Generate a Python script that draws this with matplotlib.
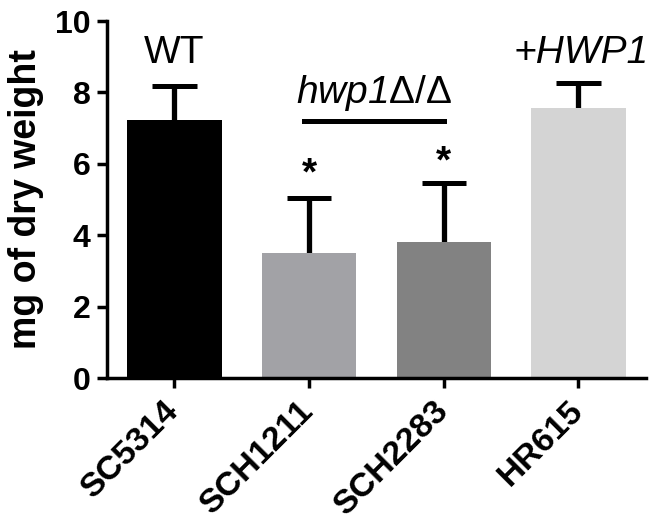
import numpy as np
import matplotlib.pyplot as plt

# dane
szczepy = ['SC5314', 'SCH1211', 'SCH2283', 'HR615']
srednie = [7.22, 3.5, 3.82, 7.55]
gorne = [8.19, 5.05, 5.45, 8.25]   # koniec wąsa błędu
kolory = ['#000000', '#a2a2a6', '#828282', '#d4d4d4']

plt.rcParams['font.family'] = ['Liberation Sans', 'DejaVu Sans']
plt.rcParams['mathtext.fontset'] = 'custom'
plt.rcParams['mathtext.rm'] = 'Liberation Sans'
plt.rcParams['mathtext.sf'] = 'Liberation Sans'
plt.rcParams['mathtext.it'] = 'Liberation Sans:italic'

fig = plt.figure(figsize=(6.53, 5.23), dpi=100)
ax = fig.add_axes([0.164, 0.2772, 0.825, 0.6826])

x = np.arange(len(szczepy))
ax.bar(x, srednie, width=0.70, color=kolory, zorder=2)
# tylko górne wąsy błędu
ax.vlines(x, srednie, gorne, color='black', lw=3.8, zorder=1)
ax.hlines(gorne, x - 0.165, x + 0.165, color='black', lw=3.6, zorder=1)

ax.set_xlim(-0.5, 3.5)
ax.set_ylim(0, 10)
ax.set_yticks([0, 2, 4, 6, 8, 10])
ax.set_xticks(x)
ax.set_xticklabels(szczepy, rotation=45, ha='right', va='center', rotation_mode='anchor',
                   fontsize=24.5, fontweight='bold')
for t in ax.get_yticklabels():
    t.set_fontsize(23)
    t.set_fontweight('bold')
ax.set_ylabel('mg of dry weight', fontsize=27, fontweight='bold', labelpad=8)

for s in ['top', 'right']:
    ax.spines[s].set_visible(False)
for s in ['left', 'bottom']:
    ax.spines[s].set_linewidth(2.5)
ax.tick_params(width=2.5, length=7)
ax.tick_params(axis='y', pad=5)
ax.tick_params(axis='x', pad=13)

# adnotacje
ax.text(0, 8.82, 'WT', ha='center', va='baseline', fontsize=28)
ax.text(3.02, 8.82, '+HWP1', ha='center', va='baseline', fontsize=28, style='italic')
ax.text(1.48, 7.7, r'hwp1$\mathsf{\Delta/\Delta}$', ha='center', va='baseline',
        fontsize=28, style='italic')
ax.plot([0.96, 2.0], [7.2, 7.2], color='black', lw=3.6)
ax.text(1, 5.42, '*', ha='center', va='baseline', fontsize=28, fontweight='bold')
ax.text(2, 5.76, '*', ha='center', va='baseline', fontsize=28, fontweight='bold')

fig.savefig('out.png', dpi=100)
